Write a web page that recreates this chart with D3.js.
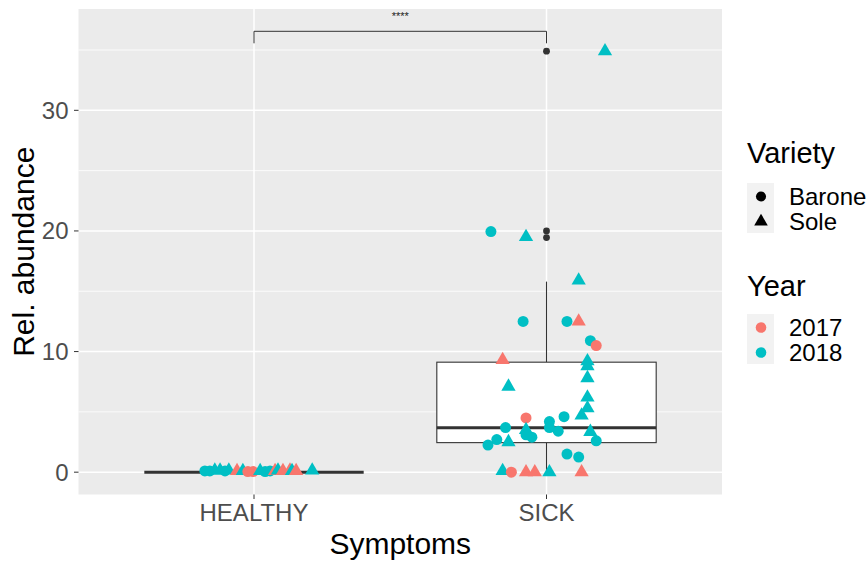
<!DOCTYPE html>
<html>
<head>
<meta charset="utf-8">
<script src="https://cdn.jsdelivr.net/npm/d3@7"></script>
<style>
body{margin:0;background:#fff;}
text{font-family:"Liberation Sans",Arial,Helvetica,sans-serif;}
</style>
</head>
<body>
<script>
var categories=['HEALTHY','SICK'];
var yTicks=[0,10,20,30];
var yMinor=[5,15,25,35];
var years=['2017','2018'];
var varieties=['Barone','Sole'];
var yearColors=['#F8766D','#00BFC4'];

// box stats per group: [lower whisker, q1, median, q3, upper whisker]
var boxStats=[[0,0,0,0,0],[0,2.45,3.68,9.12,15.8]];
var sickOutliers=[34.9,20.0,19.45];

// jittered points: [x (category units), value, year, variety]
var healthyPoints=[
    [0.832,0.1,'2018','Barone'],[0.849,0.1,'2018','Barone'],[0.866,0.15,'2018','Sole'],
    [0.884,0.15,'2018','Sole'],[0.901,0.1,'2018','Barone'],[0.914,0.15,'2018','Sole'],
    [0.942,0.1,'2017','Sole'],[0.962,0.1,'2018','Sole'],[0.979,0.05,'2017','Barone'],
    [0.997,0.05,'2017','Barone'],[1.021,0.1,'2018','Sole'],[1.038,0.05,'2018','Barone'],
    [1.055,0.1,'2018','Barone'],[1.072,0.1,'2017','Sole'],[1.082,0.15,'2018','Sole'],
    [1.099,0.1,'2017','Sole'],[1.123,0.15,'2017','Sole'],[1.130,0.1,'2018','Sole'],
    [1.144,0.1,'2017','Sole'],[1.199,0.15,'2018','Sole']
];
var sickPoints=[
    [2.20,34.9,'2018','Sole'],[1.81,19.95,'2018','Barone'],[1.93,19.5,'2018','Sole'],
    [2.11,15.9,'2018','Sole'],[1.92,12.5,'2018','Barone'],[2.07,12.5,'2018','Barone'],
    [2.11,12.5,'2017','Sole'],[2.15,10.9,'2018','Barone'],[2.17,10.5,'2017','Barone'],
    [1.85,9.3,'2017','Sole'],[2.14,9.2,'2018','Sole'],[2.14,8.8,'2018','Sole'],
    [2.14,7.8,'2018','Sole'],[1.87,7.1,'2018','Sole'],[2.14,6.2,'2018','Sole'],
    [2.14,5.3,'2018','Sole'],[2.12,4.7,'2018','Sole'],[1.93,4.5,'2017','Barone'],
    [2.06,4.6,'2018','Barone'],[2.01,4.2,'2018','Barone'],[2.01,3.7,'2018','Barone'],
    [2.04,3.4,'2018','Barone'],[1.86,3.7,'2018','Barone'],[1.93,3.5,'2018','Sole'],
    [1.93,3.1,'2018','Barone'],[1.95,2.9,'2018','Barone'],[2.15,3.35,'2018','Sole'],
    [2.17,2.6,'2018','Barone'],[1.83,2.7,'2018','Barone'],[1.87,2.5,'2018','Sole'],
    [1.80,2.25,'2018','Barone'],[2.07,1.5,'2018','Barone'],[2.11,1.25,'2018','Barone'],
    [1.85,0.1,'2018','Sole'],[1.88,0.0,'2017','Barone'],[1.93,0.0,'2017','Sole'],
    [1.96,0.0,'2017','Sole'],[2.01,0.0,'2018','Sole'],[2.12,0.0,'2017','Sole']
];
var signifLabel='****';

var width=867,height=563;
var panel={left:78.5,right:722,top:9,bottom:494.5};
var tickFont=24,titleFont=30,textGrey='#4D4D4D';

var svg=d3.select('body').append('svg')
    .attr('width',width)
    .attr('height',height);

var x=d3.scaleLinear().domain([0.4,2.6]).range([panel.left,panel.right]);
var y=d3.scaleLinear().domain([-1.85,38.4]).range([panel.bottom,panel.top]);
var color=d3.scaleOrdinal().domain(years).range(yearColors);
var shape=d3.scaleOrdinal().domain(varieties).range([d3.symbolCircle,d3.symbolTriangle]);
var shapeSize=function(v){return v=='Barone'?95:88;};

svg.append('rect')
    .attr('x',panel.left).attr('y',panel.top)
    .attr('width',panel.right-panel.left).attr('height',panel.bottom-panel.top)
    .attr('fill','#EBEBEB');

svg.selectAll('.minor').data(yMinor).enter().append('line')
    .attr('x1',panel.left).attr('x2',panel.right)
    .attr('y1',function(d){return y(d);}).attr('y2',function(d){return y(d);})
    .attr('stroke','#fff').attr('stroke-width',0.8);
svg.selectAll('.major').data(yTicks).enter().append('line')
    .attr('x1',panel.left).attr('x2',panel.right)
    .attr('y1',function(d){return y(d);}).attr('y2',function(d){return y(d);})
    .attr('stroke','#fff').attr('stroke-width',1.5);
svg.selectAll('.majorx').data(categories).enter().append('line')
    .attr('x1',function(d,i){return x(i+1);}).attr('x2',function(d,i){return x(i+1);})
    .attr('y1',panel.top).attr('y2',panel.bottom)
    .attr('stroke','#fff').attr('stroke-width',1.5);

// boxplots
var boxHalf=0.375;
boxStats.forEach(function(s,i){
    var cx=x(i+1);
    var g=svg.append('g');
    g.append('line').attr('x1',cx).attr('x2',cx).attr('y1',y(s[3])).attr('y2',y(s[4]))
        .attr('stroke','#333').attr('stroke-width',1.1);
    g.append('line').attr('x1',cx).attr('x2',cx).attr('y1',y(s[1])).attr('y2',y(s[0]))
        .attr('stroke','#333').attr('stroke-width',1.1);
    g.append('rect')
        .attr('x',x(i+1-boxHalf)).attr('width',x(i+1+boxHalf)-x(i+1-boxHalf))
        .attr('y',y(s[3])).attr('height',Math.max(0,y(s[1])-y(s[3])))
        .attr('fill','#fff').attr('stroke','#333').attr('stroke-width',1.1);
    g.append('line').attr('x1',x(i+1-boxHalf)).attr('x2',x(i+1+boxHalf))
        .attr('y1',y(s[2])).attr('y2',y(s[2]))
        .attr('stroke','#333').attr('stroke-width',3);
});
svg.selectAll('.outlier').data(sickOutliers).enter().append('circle')
    .attr('cx',x(2)).attr('cy',function(d){return y(d);})
    .attr('r',3.4).attr('fill','#333');

// jitter points
var allPoints=healthyPoints.concat(sickPoints);
svg.selectAll('.pt').data(allPoints).enter().append('path')
    .attr('transform',function(d){return 'translate('+x(d[0])+','+y(d[1])+')';})
    .attr('d',function(d){return d3.symbol().type(shape(d[3])).size(shapeSize(d[3]))();})
    .attr('fill',function(d){return color(d[2]);});

// significance bracket
var brY=31.3,brDrop=12;
svg.append('path')
    .attr('d','M'+x(1)+','+(brY+brDrop)+'V'+brY+'H'+x(2)+'V'+(brY+brDrop))
    .attr('fill','none').attr('stroke','#333').attr('stroke-width',1);
svg.append('text')
    .attr('x',(x(1)+x(2))/2).attr('y',20)
    .attr('text-anchor','middle').attr('font-size',11).attr('fill','#222')
    .text(signifLabel);

// y axis
svg.selectAll('.ytick').data(yTicks).enter().append('line')
    .attr('x1',panel.left-4.5).attr('x2',panel.left)
    .attr('y1',function(d){return y(d);}).attr('y2',function(d){return y(d);})
    .attr('stroke','#333').attr('stroke-width',1);
svg.selectAll('.ylab').data(yTicks).enter().append('text')
    .attr('x',panel.left-10).attr('y',function(d){return y(d)+8.5;})
    .attr('text-anchor','end').attr('font-size',tickFont).attr('fill',textGrey)
    .text(function(d){return d;});
svg.append('text')
    .attr('transform','translate(34,'+((panel.top+panel.bottom)/2)+') rotate(-90)')
    .attr('text-anchor','middle').attr('font-size',titleFont).attr('fill','#000')
    .text('Rel. abundance');

// x axis
svg.selectAll('.xtick').data(categories).enter().append('line')
    .attr('x1',function(d,i){return x(i+1);}).attr('x2',function(d,i){return x(i+1);})
    .attr('y1',panel.bottom).attr('y2',panel.bottom+4.5)
    .attr('stroke','#333').attr('stroke-width',1);
svg.selectAll('.xlab').data(categories).enter().append('text')
    .attr('x',function(d,i){return x(i+1);}).attr('y',521)
    .attr('text-anchor','middle').attr('font-size',tickFont).attr('fill',textGrey)
    .text(function(d){return d;});
svg.append('text')
    .attr('x',(panel.left+panel.right)/2).attr('y',554)
    .attr('text-anchor','middle').attr('font-size',titleFont).attr('fill','#000')
    .text('Symptoms');

// legends
var legX=747,keyW=27,keyH=25,labX=789;
function legend(title,titleY,keysTop,items,drawKey){
    svg.append('text').attr('x',legX).attr('y',titleY)
        .attr('font-size',29).attr('fill','#000').text(title);
    items.forEach(function(it,i){
        var top=keysTop+i*keyH;
        svg.append('rect').attr('x',legX).attr('y',top)
            .attr('width',keyW).attr('height',keyH).attr('fill','#F2F2F2');
        drawKey(it,legX+keyW/2+0.5,top+keyH/2+1);
        svg.append('text').attr('x',labX).attr('y',top+keyH/2+9.5)
            .attr('font-size',tickFont).attr('fill','#000').text(it);
    });
}
legend('Variety',163,183,varieties,function(v,cx,cy){
    svg.append('path').attr('transform','translate('+cx+','+cy+')')
        .attr('d',d3.symbol().type(shape(v)).size(80)())
        .attr('fill','#000');
});
legend('Year',296,314,years,function(v,cx,cy){
    svg.append('circle').attr('cx',cx).attr('cy',cy).attr('r',5.3)
        .attr('fill',color(v));
});
</script>
</body>
</html>
